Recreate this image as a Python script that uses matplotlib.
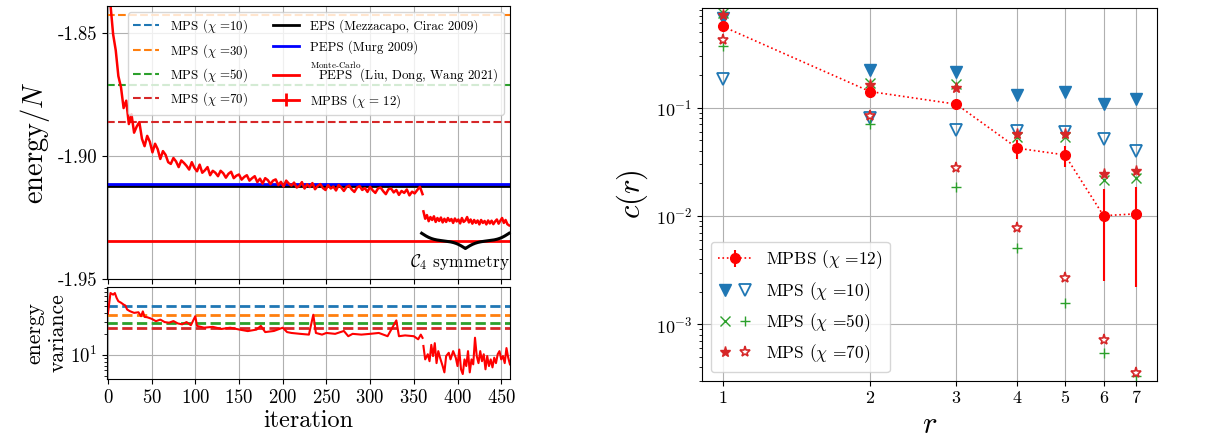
import matplotlib.pyplot as plt
import numpy as np
from matplotlib.legend_handler import HandlerTuple
from matplotlib.ticker import FixedLocator, FormatStrFormatter, NullLocator

plt.rcParams["font.family"] = ["cmr10"]
plt.rcParams["mathtext.fontset"] = "cm"
plt.rcParams["axes.formatter.use_mathtext"] = True
plt.rcParams["axes.unicode_minus"] = False

# ---- left panel data ----
# energy per site, first run (iterations 0..360, every 3rd)
energy_a = [
    -1.8000, -1.8385, -1.8505, -1.8570, -1.8675, -1.8720, -1.8805, -1.8775, -1.8870, -1.8830,
    -1.8905, -1.8880, -1.8862, -1.8930, -1.8960, -1.8918, -1.8942, -1.8985, -1.8950, -1.8972,
    -1.9012, -1.8980, -1.8995, -1.9025, -1.9032, -1.9008, -1.9022, -1.9045, -1.9018, -1.9028,
    -1.9040, -1.9055, -1.9025, -1.9048, -1.9062, -1.9035, -1.9068, -1.9058, -1.9045, -1.9078,
    -1.9060, -1.9068, -1.9082, -1.9060, -1.9070, -1.9088, -1.9072, -1.9064, -1.9090, -1.9080,
    -1.9075, -1.9096, -1.9085, -1.9078, -1.9100, -1.9090, -1.9082, -1.9106, -1.9092, -1.9112,
    -1.9090, -1.9098, -1.9114, -1.9100, -1.9095, -1.9118, -1.9105, -1.9124, -1.9100, -1.9112,
    -1.9120, -1.9108, -1.9128, -1.9122, -1.9106, -1.9132, -1.9115, -1.9126, -1.9110, -1.9135,
    -1.9122, -1.9114, -1.9130, -1.9138, -1.9118, -1.9132, -1.9124, -1.9140, -1.9118, -1.9128,
    -1.9142, -1.9126, -1.9120, -1.9136, -1.9146, -1.9128, -1.9122, -1.9138, -1.9130, -1.9146,
    -1.9125, -1.9140, -1.9150, -1.9132, -1.9128, -1.9143, -1.9155, -1.9135, -1.9132, -1.9148,
    -1.9138, -1.9158, -1.9142, -1.9150, -1.9136, -1.9160, -1.9145, -1.9152, -1.9138, -1.9125,
    -1.9155,
]
iter_a = np.arange(0, 361, 3)

# energy per site with C4 symmetry (iterations 361..459, every 2nd)
energy_b = [
    -1.9225, -1.9255, -1.9240, -1.9265, -1.9248, -1.9260, -1.9245, -1.9268, -1.9252, -1.9264,
    -1.9250, -1.9270, -1.9255, -1.9268, -1.9252, -1.9264, -1.9256, -1.9272, -1.9254, -1.9266,
    -1.9258, -1.9274, -1.9252, -1.9268, -1.9262, -1.9248, -1.9270, -1.9258, -1.9275, -1.9260,
    -1.9272, -1.9262, -1.9278, -1.9260, -1.9272, -1.9264, -1.9278, -1.9262, -1.9274, -1.9263,
    -1.9277, -1.9266, -1.9258, -1.9275, -1.9263, -1.9252, -1.9272, -1.9260, -1.9277, -1.9282,
]
iter_b = np.arange(361, 461, 2)

# energy variance
var_iter_a = [0, 3, 6, 8, 10, 12, 15, 18, 20, 22, 25, 30, 35, 38, 40, 42, 45, 50, 55, 60,
              65, 70, 75, 80, 85, 90, 95, 100, 102, 110, 120, 130, 140, 150, 160, 170, 175,
              180, 190, 200, 205, 210, 220, 230, 235, 238, 245, 250, 260, 270, 275, 280, 290,
              300, 310, 320, 330, 333, 340, 350, 355, 358, 360]
var_a = [38.8, 77, 73, 77, 65.6, 58.7, 56, 52.6, 51, 44.7, 42.4, 40, 40.8, 35.8, 42, 35,
         34.6, 32.9, 30.4, 32, 29.5, 28.9, 30.5, 28.2, 27.4, 29.5, 26.6, 35.8, 26, 24.5,
         25.2, 23.5, 24.5, 23.1, 21.9, 23, 26, 21.2, 22, 24.5, 21.2, 20.6, 20, 19.5, 37.6,
         20.6, 19.5, 20.6, 20, 22, 18.5, 20, 19.5, 20, 20.6, 18.5, 31.2, 18.5, 19, 18.5,
         16.7, 19.5, 17.5]
var_iter_b = [361, 363, 366, 368, 370, 372, 374, 376, 378, 380, 383, 385, 387, 390, 392,
              395, 398, 400, 402, 404, 406, 408, 410, 412, 414, 416, 418, 420, 422, 424,
              426, 428, 430, 432, 434, 436, 438, 440, 442, 444, 446, 448, 450, 452, 454,
              456, 458, 460]
var_b = [13.4, 8.6, 10.2, 8.1, 13.9, 9.6, 14.7, 7.6, 11.3, 9.1, 6.9, 5.6, 9.6, 10.7, 8.6,
         11.3, 9.1, 6.9, 11.9, 6.2, 5.3, 8.6, 6.9, 11.3, 5.6, 8.6, 7.3, 17.6, 9.6, 7.6,
         11.3, 8.1, 10.2, 6.2, 9.6, 6.9, 8.6, 6.6, 9.1, 7.6, 10.2, 11.3, 8.6, 9.6, 7.6,
         12.5, 9.1, 7.3]

# reference values
mps_chi = [10, 30, 50, 70]
mps_colors = ["tab:blue", "tab:orange", "tab:green", "tab:red"]
mps_energy = [-1.826, -1.8426, -1.8712, -1.8862]
mps_variance = [51, 37, 28.2, 23.9]
eps_energy = -1.9122
peps_energy = -1.9114
mcpeps_energy = -1.9345

# ---- right panel data ----
r = [1, 2, 3, 4, 5, 6, 7]
mpbs_c = [0.561, 0.1406, 0.1075, 0.0422, 0.0366, 0.01005, 0.01047]
mpbs_lo = [0.545, 0.137, 0.104, 0.0333, 0.0285, 0.0025, 0.00222]
mpbs_hi = [0.578, 0.144, 0.111, 0.0503, 0.0446, 0.0176, 0.0186]
mps10_a = [0.67, 0.22, 0.212, 0.132, 0.138, 0.108, 0.12]
mps10_b = [0.184, 0.0798, 0.0622, 0.0613, 0.060, 0.051, 0.040]
mps50_a = [0.745, 0.168, 0.166, 0.054, 0.054, 0.0215, 0.0226]
mps50_b = [0.374, 0.0707, 0.0184, 0.00501, 0.00158, 0.000548, 0.000331]
mps70_a = [0.72, 0.162, 0.151, 0.0568, 0.057, 0.0242, 0.0262]
mps70_b = [0.423, 0.0838, 0.0279, 0.00778, 0.00265, 0.000724, 0.000356]

fig = plt.figure(figsize=(12.2, 4.44), dpi=100)
ax1 = fig.add_axes([0.0877, 0.3716, 0.3303, 0.6149])
ax2 = fig.add_axes([0.0877, 0.1464, 0.3303, 0.2072], sharex=ax1)
ax3 = fig.add_axes([0.5754, 0.1419, 0.3730, 0.8401])

# energy panel
for chi, col, e in zip(mps_chi, mps_colors, mps_energy):
    ax1.axhline(e, color=col, ls="--", lw=1.5, label=rf"MPS ($\chi$ ={chi})")
ax1.axhline(eps_energy, color="k", lw=2, label="EPS (Mezzacapo, Cirac 2009)")
ax1.axhline(peps_energy, color="b", lw=2, label="PEPS (Murg 2009)")
ax1.axhline(mcpeps_energy, color="r", lw=2,
            label=r"$\overset{\mathrm{Monte\text{-}Carlo}}{\mathrm{PEPS}}$(Liu, Dong, Wang 2021)")
ax1.plot(iter_a, energy_a, color="r", lw=1.8)
ax1.plot(iter_b, energy_b, color="r", lw=1.8)
ax1.errorbar([np.nan], [np.nan], yerr=[np.nan], color="r", lw=2,
             label=r"MPBS ($\chi$ = 12)")

# curly brace under the C4 part
bx = np.linspace(359, 459, 201)
half = bx[:101]
yb = 1 / (1 + np.exp(-0.15 * (half - half[0]))) + 1 / (1 + np.exp(-0.15 * (half - half[-1])))
yb = np.concatenate((yb, yb[-2::-1]))
ax1.plot(bx, -1.9314 - 0.0062 * (yb - yb.min()) / (yb.max() - yb.min()),
         color="k", lw=2.2, clip_on=False)
ax1.text(403, -1.9432, r"$\mathcal{C}_4$ symmetry", ha="center", va="center", fontsize=12.5)

ax1.set_ylim(-1.95, -1.839)
ax1.set_xlim(-1, 460)
ax1.set_yticks([-1.95, -1.90, -1.85])
ax1.yaxis.set_major_formatter(FormatStrFormatter("%.2f"))
ax1.tick_params(labelbottom=False, labelsize=13.5)
ax1.set_ylabel(r"energy$/N$", fontsize=20.5, labelpad=4)
ax1.grid(True)
ax1.legend(loc="upper right", ncol=2, fontsize=9.3)

# variance panel
for col, v in zip(mps_colors, mps_variance):
    ax2.axhline(v, color=col, ls="--", lw=2)
ax2.plot(var_iter_a, var_a, color="r", lw=1.5)
ax2.plot(var_iter_b, var_b, color="r", lw=1.5)
ax2.set_yscale("log")
ax2.set_ylim(4.5, 94)
ax2.set_xticks(np.arange(0, 451, 50))
ax2.tick_params(labelsize=13.5)
ax2.set_ylabel("energy\nvariance", fontsize=15.5, labelpad=2)
ax2.set_xlabel("iteration", fontsize=17.5, labelpad=2)
ax2.grid(True)

# correlation panel
ax3.errorbar(r, mpbs_c,
             yerr=[np.array(mpbs_c) - np.array(mpbs_lo), np.array(mpbs_hi) - np.array(mpbs_c)],
             color="r", ls=":", marker="o", ms=7, lw=1.2, elinewidth=1.5)
h10a, = ax3.plot(r, mps10_a, "v", color="tab:blue", ms=8, ls="none")
h10b, = ax3.plot(r, mps10_b, "v", color="tab:blue", mfc="none", ms=8, mew=1.3, ls="none")
h50a, = ax3.plot(r, mps50_a, "x", color="tab:green", ms=7, ls="none")
h50b, = ax3.plot(r, mps50_b, "+", color="tab:green", ms=7, ls="none")
h70a, = ax3.plot(r, mps70_a, "*", color="tab:red", ms=8, ls="none")
h70b, = ax3.plot(r, mps70_b, "*", color="tab:red", mfc="white", ms=8, mew=1.2, ls="none")
hmp = ax3.errorbar([np.nan], [np.nan], yerr=[np.nan], color="r", ls=":", marker="o",
                   ms=7, lw=1.2, elinewidth=1.5)

ax3.set_xscale("log")
ax3.set_yscale("log")
ax3.set_ylim(3e-4, 0.83)
ax3.xaxis.set_major_locator(FixedLocator(r))
ax3.xaxis.set_minor_locator(NullLocator())
ax3.set_xticklabels([str(v) for v in r])
ax3.tick_params(labelsize=13)
ax3.set_xlabel(r"$r$", fontsize=22)
ax3.set_ylabel(r"$c(r)$", fontsize=22)
ax3.grid(True, which="major")
ax3.legend([hmp, (h10a, h10b), (h50a, h50b), (h70a, h70b)],
           [r"MPBS ($\chi$ =12)", r"MPS ($\chi$ =10)", r"MPS ($\chi$ =50)", r"MPS ($\chi$ =70)"],
           handler_map={tuple: HandlerTuple(ndivide=None)}, loc="lower left", fontsize=12.5)

fig.savefig("out.png", dpi=100)
